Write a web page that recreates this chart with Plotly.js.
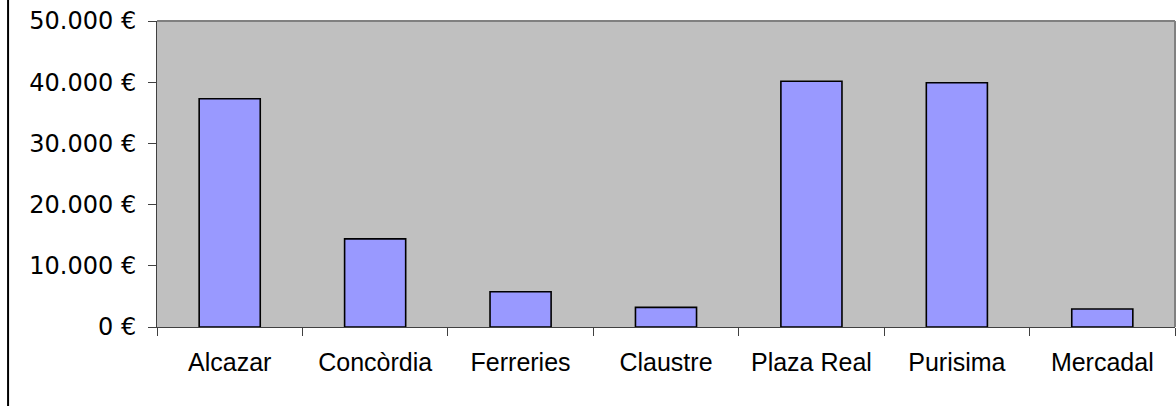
<!DOCTYPE html>
<html>
<head>
<meta charset="utf-8">
<script src="https://cdn.plot.ly/plotly-3.0.1.min.js"></script>
<style>
  html, body { margin: 0; padding: 0; background: #fff; }
  #chart { width: 1176px; height: 406px; }
</style>
</head>
<body>
<div id="chart"></div>
<script>
const categories = ["Alcazar", "Concòrdia", "Ferreries", "Claustre", "Plaza Real", "Purisima", "Mercadal"];
const values = [37300, 14400, 5750, 3200, 40150, 39900, 2950];
const yTickValues = [0, 10000, 20000, 30000, 40000, 50000];
const yTickLabels = ["0 €", "10.000 €", "20.000 €", "30.000 €", "40.000 €", "50.000 €"];

const trace = {
  type: "bar",
  x: categories,
  y: values,
  marker: { color: "#9999FF", line: { color: "#000000", width: 1.6 } },
  hoverinfo: "x+y"
};

const layout = {
  width: 1176,
  height: 406,
  margin: { l: 157, r: 1, t: 21, b: 79 },
  paper_bgcolor: "#FFFFFF",
  plot_bgcolor: "#C0C0C0",
  bargap: 0.58,
  showlegend: false,
  xaxis: {
    type: "category",
    showgrid: false,
    zeroline: false,
    showline: true,
    linecolor: "#404040",
    linewidth: 1,
    ticks: "outside",
    tickson: "boundaries",
    ticklen: 8,
    tickcolor: "#404040",
    tickfont: { family: "Liberation Sans, Arial, sans-serif", size: 25, color: "#000" },
    ticklabelstandoff: 13
  },
  yaxis: {
    range: [0, 50000],
    tickmode: "array",
    tickvals: yTickValues,
    ticktext: yTickLabels,
    showgrid: false,
    zeroline: false,
    showline: true,
    linecolor: "#404040",
    linewidth: 1,
    ticks: "outside",
    ticklen: 8,
    tickcolor: "#404040",
    tickfont: { family: "DejaVu Sans, sans-serif", size: 24, color: "#000" },
    ticklabelstandoff: 7
  },
  shapes: [
    { type: "line", xref: "paper", yref: "paper", x0: 0, x1: 1, y0: 1, y1: 1, line: { color: "#808080", width: 2 } },
    { type: "line", xref: "paper", yref: "paper", x0: 1, x1: 1, y0: 0, y1: 1, line: { color: "#808080", width: 2 } },
    { type: "line", xref: "paper", yref: "paper", x0: -0.1463, x1: -0.1463, y0: -0.27, y1: 1.08, line: { color: "#000000", width: 2 } }
  ]
};

Plotly.newPlot("chart", [trace], layout, { displayModeBar: false, staticPlot: true });
</script>
</body>
</html>
